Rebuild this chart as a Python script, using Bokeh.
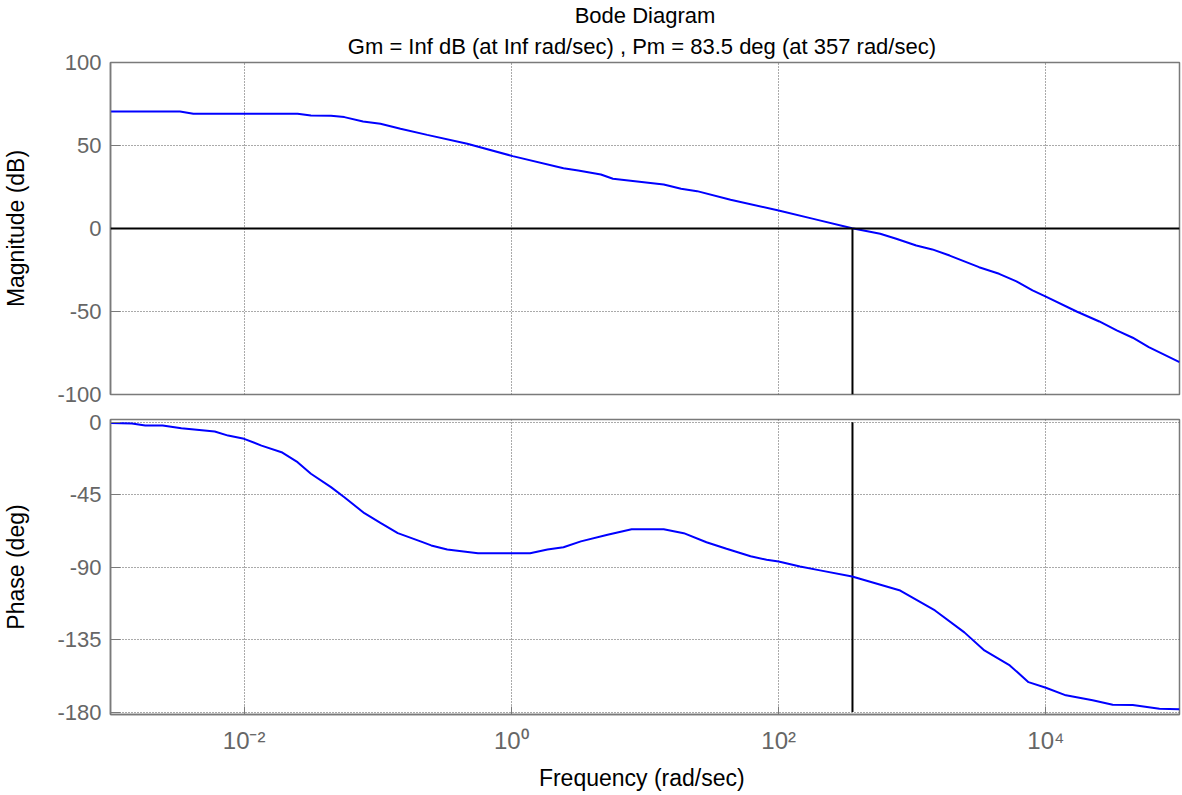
from bokeh.plotting import figure
from bokeh.layouts import column
from bokeh.models import Range1d, FixedTicker, Span, Title
from bokeh.embed import file_html
from bokeh.resources import INLINE

# ---------------- data ----------------
# magnitude curve: log10(frequency in rad/sec) and magnitude in dB
mag_log_w = [-3.00, -2.48, -2.38, -1.60, -1.50, -1.35, -1.25, -1.11, -0.98, -0.83,
             -0.63, -0.33, 0.01, 0.39, 0.50, 0.67, 0.76, 1.14, 1.27, 1.39,
             1.64, 2.00, 2.26, 2.55, 2.76, 2.88, 3.03, 3.15, 3.28, 3.50,
             3.65, 3.78, 3.90, 4.00, 4.23, 4.40, 4.53, 4.65, 4.77, 5.00]
mag_db = [70.5, 70.5, 69.1, 69.1, 68.1, 67.9, 67.1, 64.5, 63.1, 60.1,
          56.4, 51.0, 43.6, 36.3, 35.0, 32.5, 30.0, 26.5, 23.9, 22.5,
          17.3, 10.8, 5.8, 0.2, -3.2, -6.2, -10.2, -12.6, -16.3, -23.3,
          -27.3, -31.9, -37.3, -41.0, -50.0, -56.0, -61.4, -65.8, -71.5, -80.5]

# phase curve: log10(frequency in rad/sec) and phase in degrees
phase_log_w = [-3.00, -2.84, -2.74, -2.61, -2.47, -2.22, -2.12, -2.00, -1.87, -1.72,
               -1.60, -1.50, -1.35, -1.25, -1.10, -0.98, -0.85, -0.68, -0.60, -0.48,
               -0.25, 0.14, 0.27, 0.39, 0.52, 0.72, 0.90, 1.14, 1.29, 1.46,
               1.61, 1.79, 1.91, 2.00, 2.16, 2.31, 2.55, 2.91, 3.17, 3.39,
               3.54, 3.73, 3.87, 4.00, 4.15, 4.35, 4.50, 4.65, 4.85, 5.00]
phase_deg = [-0.4, -0.8, -2.0, -2.0, -3.7, -5.8, -8.3, -10.3, -14.5, -18.6,
             -24.8, -32.0, -40.3, -46.6, -56.5, -62.5, -68.9, -74.0, -76.5, -79.0,
             -81.3, -81.3, -79.0, -77.6, -74.0, -69.9, -66.4, -66.4, -68.9, -74.5,
             -78.6, -83.2, -85.4, -86.5, -89.6, -92.0, -95.8, -104.5, -116.9, -130.5,
             -141.7, -151.0, -161.4, -164.9, -169.6, -172.7, -175.4, -175.6, -177.9, -178.3]

x_limits = [1e-3, 1e5]
x_ticks = [1e-2, 1e0, 1e2, 1e4]
x_tick_labels = ["10\u207b\u00b2", "10\u2070", "10\u00b2", "10\u2074"]
mag_limits = [-100, 100]
mag_ticks = [-100, -50, 0, 50, 100]
mag_tick_labels = ["-100", "-50", "0", "50", "100"]
phase_limits = [-181.5, 1.7]
phase_ticks = [-180, -135, -90, -45, 0]
phase_tick_labels = ["-180", "-135", "-90", "-45", "0"]
phase_line_bottom = -180
pm_freq = 357.0  # crossover frequency (rad/sec)

title_text = "Bode Diagram"
subtitle_text = "Gm = Inf dB (at Inf rad/sec) ,  Pm = 83.5 deg (at 357 rad/sec)"
mag_label = "Magnitude (dB)"
phase_label = "Phase (deg)"
freq_label = "Frequency  (rad/sec)"

# ---------------- styling ----------------
FONT = "Liberation Sans"
TICK_COLOR = "#666666"
FRAME_COLOR = "#7a7a7a"
GRID_COLOR = "#555555"
CURVE_COLOR = "#0000ff"
W = 1181

freq_mag = [10 ** e for e in mag_log_w]
freq_phase = [10 ** e for e in phase_log_w]

x_range = Range1d(x_limits[0], x_limits[1])


def style(p, yticks, ylabels, ylabel):
    p.outline_line_color = FRAME_COLOR
    p.outline_line_width = 1.5
    p.background_fill_color = "white"
    p.border_fill_color = "white"
    p.xgrid.ticker = FixedTicker(ticks=x_ticks)
    p.ygrid.ticker = FixedTicker(ticks=yticks)
    for g in (p.xgrid, p.ygrid):
        g.grid_line_color = GRID_COLOR
        g.grid_line_dash = "1 2"
        g.grid_line_width = 1
    ax = p.yaxis[0]
    ax.ticker = FixedTicker(ticks=yticks)
    ax.major_label_overrides = {t: lab for t, lab in zip(yticks, ylabels)}
    ax.axis_label = ylabel
    ax.axis_label_text_font = FONT
    ax.axis_label_text_font_size = "23px"
    ax.axis_label_text_font_style = "normal"
    ax.axis_label_text_color = "black"
    ax.axis_label_standoff = 25
    ax.major_label_text_font = FONT
    ax.major_label_text_font_size = "22px"
    ax.major_label_text_color = TICK_COLOR
    ax.major_label_standoff = 9
    ax.major_tick_in = 10
    ax.major_tick_out = 0
    ax.major_tick_line_color = FRAME_COLOR
    ax.minor_tick_line_color = None
    ax.axis_line_color = FRAME_COLOR
    ax.axis_line_width = 1.5


# ---------------- magnitude panel ----------------
p1 = figure(width=W, height=407, x_axis_type="log", x_range=x_range,
            y_range=Range1d(mag_limits[0], mag_limits[1]),
            output_backend="svg", toolbar_location=None,
            min_border_left=109, min_border_right=2,
            min_border_top=62, min_border_bottom=13)
p1.title.visible = False
p1.add_layout(Title(text=subtitle_text, align="center", text_font=FONT,
                    text_font_size="22px", text_font_style="normal",
                    text_color="black", standoff=8), "above")
p1.add_layout(Title(text=title_text, align="center", text_font=FONT,
                    text_font_size="22px", text_font_style="normal",
                    text_color="black", standoff=0), "above")
style(p1, mag_ticks, mag_tick_labels, mag_label)
p1.xaxis.visible = False

p1.add_layout(Span(location=0, dimension="width", line_color="black", line_width=2))
p1.segment(x0=[pm_freq], y0=[0], x1=[pm_freq], y1=[mag_limits[0]],
           line_color="black", line_width=2)
p1.line(freq_mag, mag_db, line_color=CURVE_COLOR, line_width=2)

# ---------------- phase panel ----------------
p2 = figure(width=W, height=387, x_axis_type="log", x_range=x_range,
            y_range=Range1d(phase_limits[0], phase_limits[1]),
            output_backend="svg", toolbar_location=None,
            min_border_left=109, min_border_right=2,
            min_border_top=12, min_border_bottom=80)
p2.title.visible = False
style(p2, phase_ticks, phase_tick_labels, phase_label)
xa = p2.xaxis[0]
xa.ticker = FixedTicker(ticks=x_ticks)
xa.major_label_overrides = {t: lab for t, lab in zip(x_ticks, x_tick_labels)}
xa.major_label_text_font = FONT
xa.major_label_text_font_size = "24px"
xa.major_label_text_color = TICK_COLOR
xa.major_label_standoff = 12
xa.major_tick_in = 8
xa.major_tick_out = 0
xa.major_tick_line_color = FRAME_COLOR
xa.minor_tick_line_color = None
xa.axis_line_color = FRAME_COLOR
xa.axis_line_width = 1.5
xa.axis_label = freq_label
xa.axis_label_text_font = FONT
xa.axis_label_text_font_size = "23px"
xa.axis_label_text_font_style = "normal"
xa.axis_label_text_color = "black"
xa.axis_label_standoff = 8

p2.segment(x0=[pm_freq], y0=[0], x1=[pm_freq], y1=[phase_line_bottom],
           line_color="black", line_width=2)
p2.line(freq_phase, phase_deg, line_color=CURVE_COLOR, line_width=2)

layout = column(p1, p2, spacing=0)
open("out.html", "w").write(file_html(layout, INLINE))
